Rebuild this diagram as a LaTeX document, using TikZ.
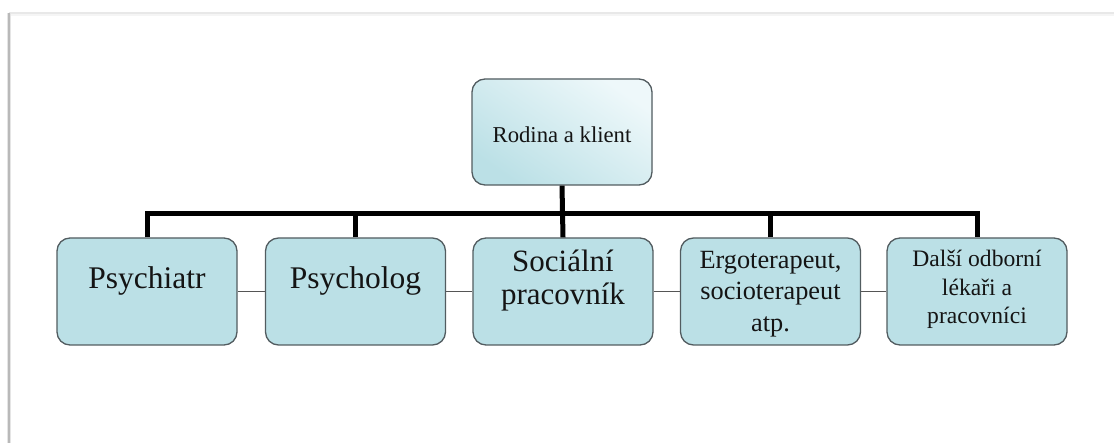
\documentclass[tikz,border=0pt]{standalone}
\usepackage{fontspec}
\setmainfont{Liberation Serif}
\definecolor{boxfill}{RGB}{187,224,230}
\definecolor{boxlight}{RGB}{238,248,250}
\definecolor{boxborder}{RGB}{82,92,96}
\definecolor{linkgray}{RGB}{85,85,85}
\definecolor{txt}{RGB}{20,20,20}
\tikzset{
  orgbox/.style={draw=boxborder, line width=1.3pt, rounded corners=13pt, fill=boxfill,
    minimum width=180pt, minimum height=107pt, inner sep=0pt},
  topbox/.style={orgbox, minimum height=106pt, shading=axis, bottom color=boxfill, top color=boxlight, shading angle=-35},
  lbl/.style={text=txt, align=center, inner sep=0pt},
  bus/.style={line width=5pt, black},
  peer/.style={line width=1.6pt, linkgray},
}
\begin{document}
\begin{tikzpicture}[x=1pt,y=-1pt]
\useasboundingbox (0,0) rectangle (1114,443);
% page frame
\draw[line width=4pt, gray!8] (9,14) -- (1114,14);
\draw[line width=2pt, gray!18] (9,13) -- (1114,13);
\draw[line width=4pt, gray!20] (9,13) -- (9,443);
\draw[line width=2pt, gray!55] (8.5,13) -- (8.5,443);
% boxes
\node[topbox] (top) at (562,132) {};
\node[orgbox] (b1) at (147,291.5) {};
\node[orgbox] (b2) at (355.5,291.5) {};
\node[orgbox] (b3) at (563,291.5) {};
\node[orgbox] (b4) at (770.5,291.5) {};
\node[orgbox] (b5) at (977,291.5) {};
\coordinate (bus) at (0,214);
% connectors
\draw[peer] (b1.east) -- (b2.west);
\draw[peer] (b2.east) -- (b3.west);
\draw[peer] (b3.east) -- (b4.west);
\draw[peer] (b4.east) -- (b5.west);
\draw[bus] (top.south) -- (b3.north);
\draw[bus, line join=miter] (b1.north) -- (b1.north |- bus) -- (b5.north |- bus) -- (b5.north);
\draw[bus] (b2.north) -- (b2.north |- bus);
\draw[bus] (b4.north) -- (b4.north |- bus);
% texts
\node[lbl, font=\fontsize{22.7}{26}\selectfont] (t0) at (562,135) {Rodina a klient};
\node[lbl, font=\fontsize{31.5}{33}\selectfont] (t1) at (147,281) {Psychiatr};
\node[lbl, font=\fontsize{31.5}{33}\selectfont] (t2) at (355.5,281) {Psycholog};
\node[lbl, font=\fontsize{31}{33}\selectfont] (t3) at (563,281) {Sociální\\pracovník};
\node[lbl, font=\fontsize{26.3}{31.5}\selectfont] (t4) at (770.5,294) {Ergoterapeut,\\socioterapeut\\atp.};
\node[lbl, font=\fontsize{23.6}{28.5}\selectfont] (t5) at (977,289.5) {Další odborní\\lékaři a\\pracovníci};
\end{tikzpicture}
\end{document}
